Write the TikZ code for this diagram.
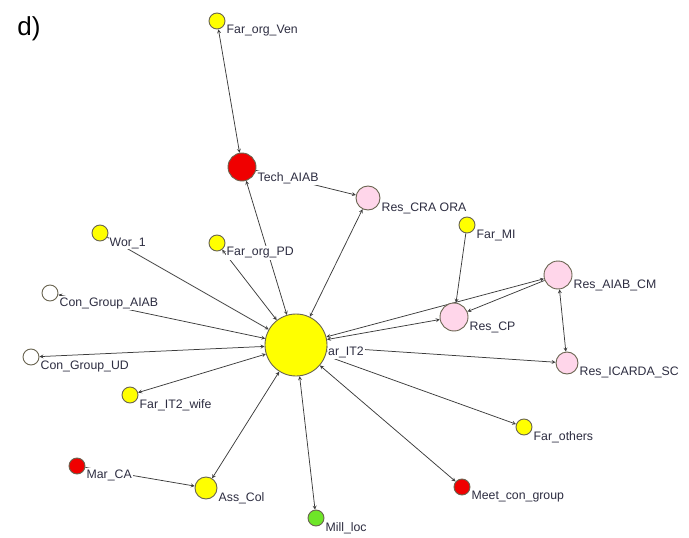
\documentclass[tikz,border=0pt]{standalone}
\usepackage{fontspec}
\setmainfont{Liberation Sans}
\usepackage{tikz}
\usetikzlibrary{shapes.geometric, arrows, positioning}
\definecolor{farmyellow}{RGB}{255,255,0}
\definecolor{actorred}{RGB}{240,0,0}
\definecolor{respink}{RGB}{255,214,234}
\definecolor{millgreen}{RGB}{110,230,40}
\definecolor{rimgray}{RGB}{105,100,80}
\definecolor{tiegray}{RGB}{60,60,60}
\definecolor{nametext}{RGB}{45,45,65}
\pgfdeclarelayer{ties}
\pgfdeclarelayer{names}
\pgfsetlayers{ties,names,main}

\begin{document}
\begin{tikzpicture}[x=1pt, y=-1pt, >=stealth,
    actor/.style={circle, draw=rimgray, line width=0.9pt, inner sep=0pt},
    nm/.style={anchor=west, fill=white, text=nametext, inner sep=1pt,
        font=\fontsize{12.3}{14}\selectfont},
    tie/.style={draw=tiegray, line width=0.75pt}]
\useasboundingbox (0,0) rectangle (689,538);

% panel letter
\node[anchor=center, font=\fontsize{26}{30}\selectfont] (panel) at (29,29) {d)};

% central farmer
\node[actor, fill=farmyellow, minimum size=62pt] (it2) at (296,345) {};

% technicians and researchers
\node[actor, fill=actorred, minimum size=28pt] (tech) at (242,167) {};
\node[actor, fill=respink, minimum size=24pt] (cra) at (368,198) {};
\node[actor, fill=respink, minimum size=28pt] (aiabcm) at (558,275) {};
\node[actor, fill=respink, minimum size=28pt] (cp) at (454,317) {};
\node[actor, fill=respink, minimum size=22pt] (icarda) at (567,363) {};

% farmers and others
\node[actor, fill=farmyellow, minimum size=16pt] (ven) at (217,21) {};
\node[actor, fill=farmyellow, minimum size=16pt] (mi) at (467,225) {};
\node[actor, fill=farmyellow, minimum size=16pt] (wor) at (100,233) {};
\node[actor, fill=farmyellow, minimum size=16pt] (pd) at (217,243) {};
\node[actor, fill=white, minimum size=16pt] (conaiab) at (50,293) {};
\node[actor, fill=white, minimum size=16pt] (conud) at (31,357) {};
\node[actor, fill=farmyellow, minimum size=16pt] (wife) at (130,395) {};
\node[actor, fill=farmyellow, minimum size=16pt] (others) at (524,427) {};
\node[actor, fill=actorred, minimum size=16pt] (marca) at (77,466) {};
\node[actor, fill=farmyellow, minimum size=22pt] (asscol) at (206,488) {};
\node[actor, fill=millgreen, minimum size=16pt] (mill) at (316,518) {};
\node[actor, fill=actorred, minimum size=16pt] (meet) at (462,487) {};

% names
\begin{pgfonlayer}{names}
\node[nm] (it2-n) at ([xshift=-8pt, yshift=-7pt]it2.east) {Far\_IT2};
\node[nm] (tech-n) at ([yshift=-11pt]tech.east) {Tech\_AIAB};
\node[nm] (cra-n) at ([yshift=-10pt]cra.east) {Res\_CRA ORA};
\node[nm] (aiabcm-n) at ([yshift=-10pt]aiabcm.east) {Res\_AIAB\_CM};
\node[nm] (cp-n) at ([yshift=-10pt]cp.east) {Res\_CP};
\node[nm] (icarda-n) at ([yshift=-9pt]icarda.east) {Res\_ICARDA\_SC};
\node[nm] (ven-n) at ([yshift=-10pt]ven.east) {Far\_org\_Ven};
\node[nm] (mi-n) at ([yshift=-10pt]mi.east) {Far\_MI};
\node[nm] (wor-n) at ([yshift=-10pt]wor.east) {Wor\_1};
\node[nm] (pd-n) at ([yshift=-10pt]pd.east) {Far\_org\_PD};
\node[nm] (conaiab-n) at ([yshift=-10pt]conaiab.east) {Con\_Group\_AIAB};
\node[nm] (conud-n) at ([yshift=-9pt]conud.east) {Con\_Group\_UD};
\node[nm] (wife-n) at ([yshift=-10pt]wife.east) {Far\_IT2\_wife};
\node[nm] (others-n) at ([yshift=-10pt]others.east) {Far\_others};
\node[nm] (marca-n) at ([yshift=-9pt]marca.east) {Mar\_CA};
\node[nm] (asscol-n) at ([yshift=-10pt]asscol.east) {Ass\_Col};
\node[nm] (mill-n) at ([yshift=-10pt]mill.east) {Mill\_loc};
\node[nm] (meet-n) at ([yshift=-10pt]meet.east) {Meet\_con\_group};
\end{pgfonlayer}

% ties
\begin{pgfonlayer}{ties}
\draw[tie, <->] (ven) -- (tech);
\draw[tie, ->] (tech) -- (cra);
\draw[tie, <->] (it2) -- (tech);
\draw[tie, <->] (it2) -- (cra);
\draw[tie, ->] (wor) -- (it2);
\draw[tie, <->] (it2) -- (pd);
\draw[tie, <->] (it2) -- (conaiab);
\draw[tie, <->] (it2) -- (conud);
\draw[tie, <->] (it2) -- (wife);
\draw[tie, <->] (it2) -- (asscol);
\draw[tie, <->] (it2) -- (mill);
\draw[tie, <->] (it2) -- (meet);
\draw[tie, <->] (it2) -- (others);
\draw[tie, ->] (marca) -- (asscol);
\draw[tie, ->] (mi) -- (cp);
\draw[tie, <->] (it2) -- (cp);
\draw[tie, <->] (it2) -- (aiabcm);
\draw[tie, ->] (aiabcm) -- (cp);
\draw[tie, <->] (aiabcm) -- (icarda);
\draw[tie, ->] (it2) -- (icarda);
\end{pgfonlayer}
\end{tikzpicture}
\end{document}
